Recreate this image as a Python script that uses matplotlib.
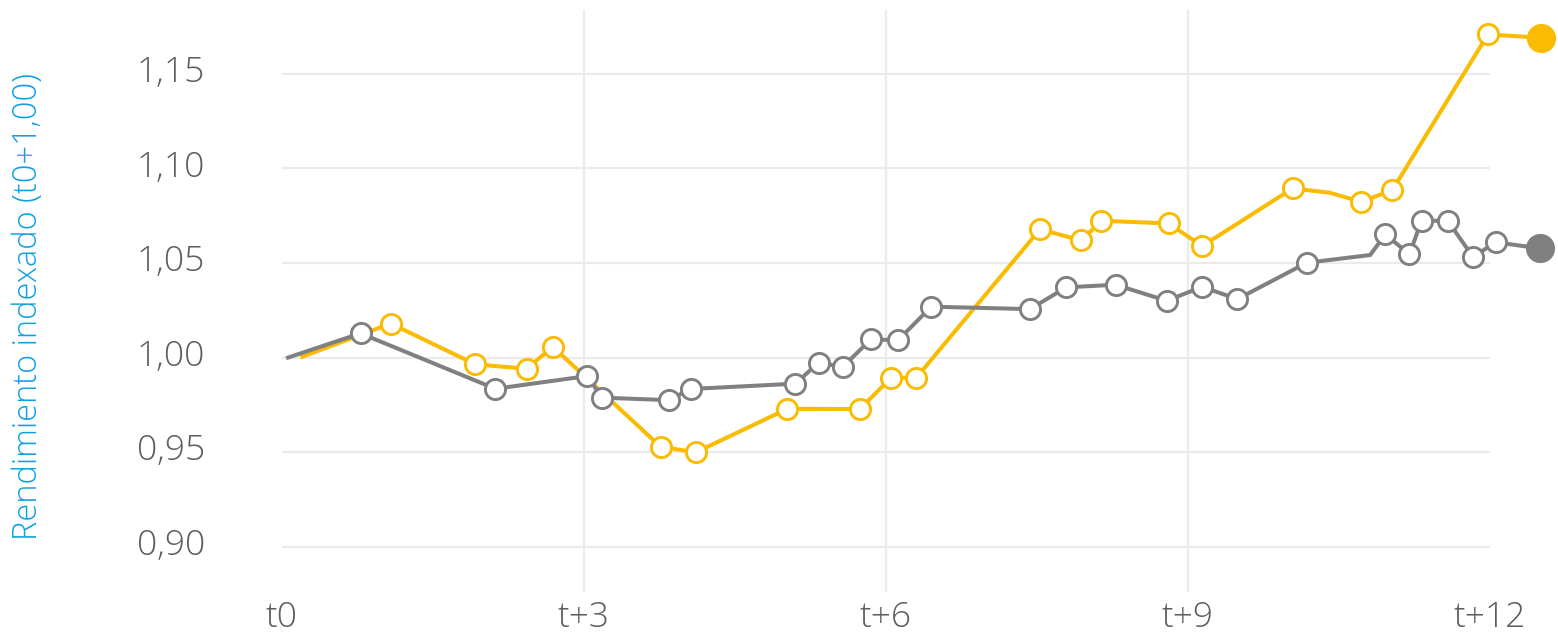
import matplotlib
matplotlib.use("Agg")
import matplotlib.pyplot as plt
import matplotlib.transforms as mtransforms

# series: x position (months after t0), indexed return, marker flag
gray_x = [0.06, 0.78, 2.12, 3.03, 3.18, 3.84, 4.06, 5.10, 5.33, 5.57, 5.85, 6.12, 6.45,
          7.43, 7.79, 8.28, 8.79, 9.14, 9.49, 10.18, 10.81, 10.96, 11.20, 11.32, 11.58,
          11.83, 12.06, 12.50]
gray_y = [1.000, 1.0128, 0.9835, 0.9902, 0.9788, 0.9775, 0.9834, 0.9862, 0.9973, 0.9951,
          1.0096, 1.0092, 1.0269, 1.0256, 1.0371, 1.0385, 1.0300, 1.0374, 1.0309, 1.0501,
          1.0542, 1.0651, 1.0546, 1.0723, 1.0723, 1.0533, 1.0609, 1.0577]
gray_mark = [0, 1, 1, 1, 1, 1, 1, 1, 1, 1, 1, 1, 1, 1, 1, 1, 1, 1, 1, 1, 0, 1, 1, 1, 1, 1, 1, 2]

yellow_x = [0.20, 1.08, 1.92, 2.43, 2.69, 3.76, 4.11, 5.02, 5.74, 6.05, 6.30, 7.53, 7.94,
            8.14, 8.81, 9.14, 10.04, 10.41, 10.72, 11.03, 11.98, 12.51]
yellow_y = [1.0004, 1.018, 0.9964, 0.9941, 1.0057, 0.9529, 0.9499, 0.9729, 0.9728, 0.9893,
            0.9893, 1.0678, 1.0619, 1.0723, 1.0709, 1.0589, 1.0894, 1.0871, 1.0823, 1.0885,
            1.1708, 1.1690]
yellow_mark = [0, 1, 1, 1, 1, 1, 1, 1, 1, 1, 1, 1, 1, 1, 1, 1, 1, 0, 1, 1, 1, 2]

x_ticks = [0, 3, 6, 9, 12]
x_labels = ["t0", "t+3", "t+6", "t+9", "t+12"]
y_ticks = [0.90, 0.95, 1.00, 1.05, 1.10, 1.15]
y_labels = ["0,90", "0,95", "1,00", "1,05", "1,10", "1,15"]

YELLOW = "#FABB00"
GRAY = "#808080"
GRID = "#EBEBEB"
TEXT = "#5E5E5E"
BLUE = "#0FA0E3"

plt.rcParams['font.family'] = ['Open Sans', 'DejaVu Sans']

fig = plt.figure(figsize=(15.58, 6.32), dpi=100)
ax = fig.add_axes([0.1681, 0.0633, 0.8270, 0.9209])
ax.set_xlim(-0.2, 12.6)
ax.set_ylim(0.8761, 1.1837)

# grid lines
ax.hlines(y_ticks, 0, 12, color=GRID, lw=1.6, zorder=0)
for xv in [3, 6, 9]:
    ax.axvline(xv, color=GRID, lw=1.6, zorder=0)


def draw_series(xs, ys, marks, color, z):
    ax.plot(xs, ys, color=color, lw=2.9, zorder=z, solid_joinstyle='miter', clip_on=False)
    ox = [x for x, m in zip(xs, marks) if m == 1]
    oy = [y for y, m in zip(ys, marks) if m == 1]
    ax.plot(ox, oy, ls='none', marker='o', ms=14.5, mfc='white', mec=color, mew=2.1,
            zorder=z + 0.5, clip_on=False)
    fx = [x for x, m in zip(xs, marks) if m == 2]
    fy = [y for y, m in zip(ys, marks) if m == 2]
    ax.plot(fx, fy, ls='none', marker='o', ms=21, mfc=color, mec=color, mew=0,
            zorder=z + 0.5, clip_on=False)


draw_series(yellow_x, yellow_y, yellow_mark, YELLOW, 2)
draw_series(gray_x, gray_y, gray_mark, GRAY, 3)

ax.set_xticks(x_ticks)
ax.set_xticklabels(x_labels)
ax.set_yticks(y_ticks)
ax.set_yticklabels(y_labels)
ax.tick_params(axis='both', length=0, colors=TEXT, labelsize=25.5)
ax.tick_params(axis='y', pad=41)
ax.tick_params(axis='x', pad=6)
for lab in ax.get_xticklabels() + ax.get_yticklabels():
    lab.set_fontweight('light')
# y labels sit a little above their grid line
shift = mtransforms.ScaledTranslation(0, 5 / 100, fig.dpi_scale_trans)
for lab in ax.get_yticklabels():
    lab.set_transform(lab.get_transform() + shift)

for s in ax.spines.values():
    s.set_visible(False)

fig.text(28 / 1558, 1 - 306 / 632, "Rendimiento indexado (t0+1,00)", rotation=90,
         ha='center', va='center', color=BLUE, fontsize=23.5, fontweight='light')

fig.savefig("out.png", dpi=100)
